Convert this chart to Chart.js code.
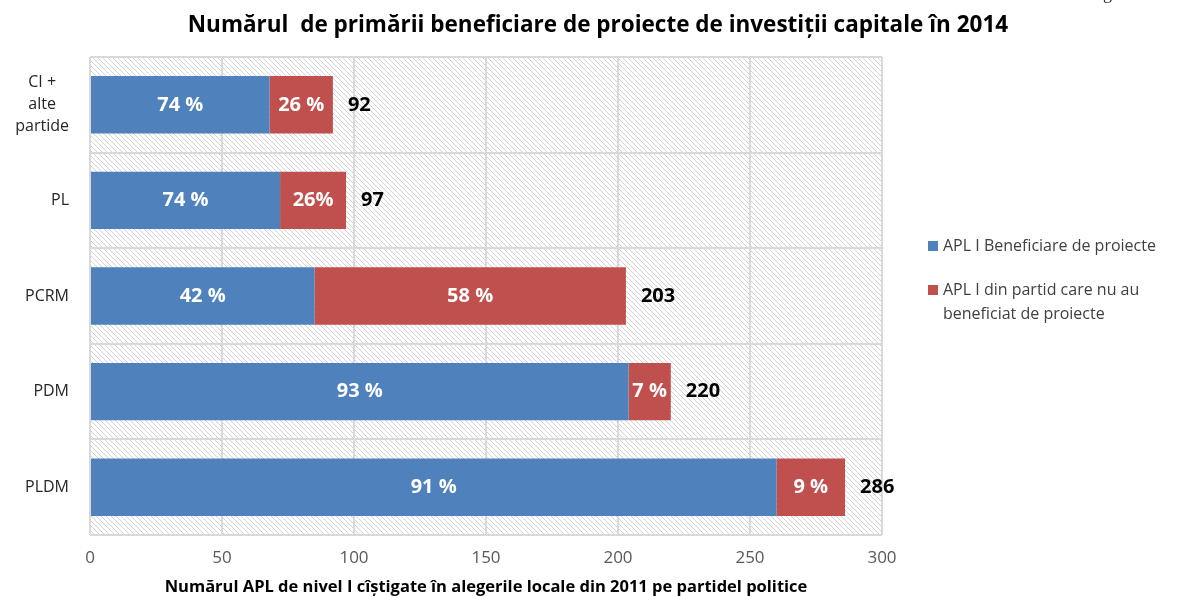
<!DOCTYPE html>
<html>
<head>
<meta charset="utf-8">
<script src="https://cdn.jsdelivr.net/npm/chart.js@4"></script>
<style>
 body{margin:0;background:#fff;font-family:"Open Sans",sans-serif;}
 #wrap{position:relative;width:1191px;height:596px;overflow:hidden;}
 #fig{position:absolute;left:1088px;top:-17px;font-family:"Liberation Serif",serif;font-size:18px;color:#333;}
 #title{position:absolute;left:0;width:1196px;top:9px;text-align:center;font-weight:bold;font-size:22.5px;line-height:30px;color:#000;white-space:pre;}
 #legend{position:absolute;left:928px;top:233px;font-size:16px;color:#404040;line-height:24px;}
 .it{display:flex;align-items:flex-start;margin-bottom:20px;}
 .sw{width:10px;height:10px;margin:8px 5px 0 0;flex:none;}
</style>
</head>
<body>
<div id="wrap">
 <canvas id="chart" width="1191" height="596"></canvas>
 <div id="fig">Figura 1</div>
 <div id="title">Numărul  de primării beneficiare de proiecte de investiții capitale în 2014</div>
 <div id="legend"></div>
</div>
<script>
const categories=[["CI +","alte","partide"],"PL","PCRM","PDM","PLDM"];
const beneficiare=[68,72,85,204,260];
const neBeneficiare=[24,25,118,16,26];
const procBenef=["74 %","74 %","42 %","93 %","91 %"];
const procNeBenef=["26 %","26%","58 %","7 %","9 %"];
const totaluri=[92,97,203,220,286];
const xTicks=[0,50,100,150,200,250,300];
const seriesNames=["APL I Beneficiare de proiecte","APL I din partid care nu au beneficiat de proiecte"];
const colors=["#4f81bd","#c0504d"];

// hasura de fundal
function makeHatch(){
 const c=document.createElement("canvas");
 c.width=5;c.height=5;
 const g=c.getContext("2d");
 g.fillStyle="#fff";g.fillRect(0,0,5,5);
 g.strokeStyle="#d2d2d2";g.lineWidth=1;
 g.beginPath();
 g.moveTo(-1,-1);g.lineTo(6,6);
 g.moveTo(-1,4);g.lineTo(1,6);
 g.moveTo(4,-1);g.lineTo(6,1);
 g.stroke();
 return c;
}
const hatch={
 id:"hatch",
 beforeDraw(ch){
  const a=ch.chartArea,ctx=ch.ctx;
  ctx.save();
  ctx.fillStyle=ctx.createPattern(makeHatch(),"repeat");
  ctx.fillRect(a.left,a.top,a.right-a.left,a.bottom-a.top);
  ctx.restore();
 }
};

// etichete categorii: bloc aliniat la dreapta, randuri centrate
const catLabels={
 id:"catLabels",
 afterDraw(ch){
  const ctx=ch.ctx,ys=ch.scales.y;
  ctx.save();
  ctx.font="16px 'Open Sans'";
  ctx.fillStyle="#262626";
  ctx.textAlign="center";
  ctx.textBaseline="middle";
  const right=ch.chartArea.left-21,lh=22;
  categories.forEach((c,i)=>{
   const lines=Array.isArray(c)?c:[c];
   const w=Math.max(...lines.map(l=>ctx.measureText(l).width));
   const cy=ys.getPixelForTick(i);
   lines.forEach((l,k)=>{
    ctx.fillText(l,right-w/2,cy+(k-(lines.length-1)/2)*lh);
   });
  });
  ctx.restore();
 }
};

const labelsPlugin={
 id:"labels",
 afterDatasetsDraw(ch){
  const ctx=ch.ctx;
  ctx.save();
  ctx.textBaseline="middle";
  ctx.textAlign="center";
  ctx.font="bold 20px 'Open Sans'";
  ctx.fillStyle="#fff";
  [procBenef,procNeBenef].forEach((txt,di)=>{
   ch.getDatasetMeta(di).data.forEach((b,i)=>{
    ctx.fillText(txt[i],(b.x+b.base)/2,b.y);
   });
  });
  ctx.fillStyle="#000";
  ctx.textAlign="left";
  ch.getDatasetMeta(1).data.forEach((b,i)=>{
   ctx.fillText(totaluri[i],b.x+15,b.y);
  });
  ctx.restore();
 }
};

new Chart(document.getElementById("chart"),{
 type:"bar",
 data:{
  labels:categories,
  datasets:[
   {label:seriesNames[0],data:beneficiare,backgroundColor:colors[0]},
   {label:seriesNames[1],data:neBeneficiare,backgroundColor:colors[1]}
  ]
 },
 options:{
  indexAxis:"y",
  responsive:false,
  animation:false,
  categoryPercentage:1,
  barPercentage:0.6,
  layout:{padding:{top:57,right:309,bottom:0,left:0}},
  plugins:{
   legend:{display:false},
   tooltip:{enabled:false}
  },
  scales:{
   x:{
    stacked:true,min:0,max:300,
    afterBuildTicks(ax){ax.ticks=xTicks.map(v=>({value:v}));},
    afterFit(ax){ax.height=61;},
    grid:{color:"#d9d9d9",lineWidth:2,drawTicks:false},
    border:{display:false},
    ticks:{font:{family:"Open Sans",size:17},color:"#595959",padding:13},
    title:{display:true,text:"Numărul APL de nivel I cîștigate în alegerile locale din 2011 pe partidel politice",
     font:{family:"Open Sans",size:16.5,weight:"bold"},color:"#000",padding:{top:0,bottom:-1}}
   },
   y:{
    stacked:true,
    afterFit(ax){ax.width=90;},
    grid:{color:"#d9d9d9",lineWidth:2,drawTicks:false},
    border:{display:false},
    ticks:{display:false}
   }
  }
 },
 plugins:[hatch,labelsPlugin,catLabels]
});

const lg=document.getElementById("legend");
seriesNames.forEach((n,i)=>{
 const d=document.createElement("div");d.className="it";
 d.innerHTML=`<div class="sw" style="background:${colors[i]}"></div><div style="width:240px">${n}</div>`;
 lg.appendChild(d);
});
</script>
</body>
</html>
